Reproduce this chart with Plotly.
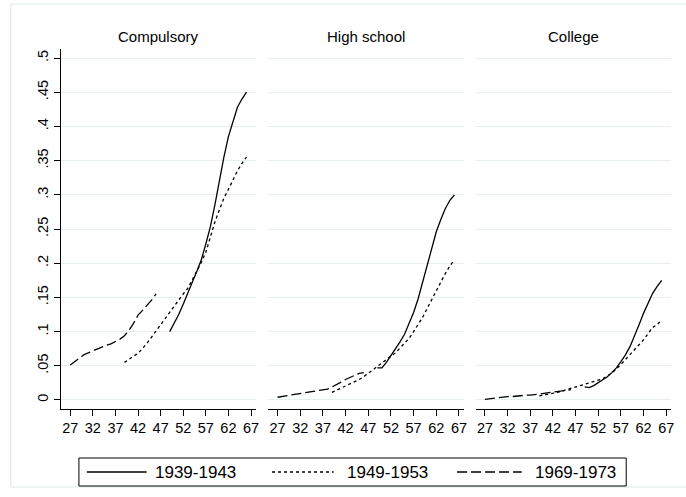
import plotly.graph_objects as go

# Share of people by age, three birth cohorts, split by education level
panels = ["Compulsory", "High school", "College"]
cohorts = ["1939-1943", "1949-1953", "1969-1973"]
dashes = ["solid", "3px,3px", "10px,4px"]

ages_1939 = list(range(49, 67))
ages_1949 = list(range(39, 67))
ages_1969 = list(range(27, 47))

compulsory_1939 = [0.100, 0.112, 0.125, 0.140, 0.155, 0.172, 0.188, 0.205, 0.228,
                   0.253, 0.285, 0.321, 0.355, 0.385, 0.408, 0.428, 0.440, 0.450]
compulsory_1949 = [0.055, 0.060, 0.064, 0.068, 0.075, 0.083, 0.092, 0.101, 0.110,
                   0.119, 0.129, 0.138, 0.146, 0.155, 0.163, 0.175, 0.188, 0.201,
                   0.216, 0.238, 0.260, 0.278, 0.295, 0.308, 0.322, 0.335, 0.346, 0.355]
compulsory_1969 = [0.051, 0.056, 0.061, 0.066, 0.069, 0.072, 0.075, 0.078, 0.080, 0.082,
                   0.085, 0.089, 0.094, 0.102, 0.112, 0.124, 0.131, 0.138, 0.146, 0.155]

highschool_1939 = [0.047, 0.047, 0.055, 0.065, 0.074, 0.085, 0.096, 0.112, 0.128,
                   0.148, 0.172, 0.198, 0.224, 0.246, 0.264, 0.280, 0.292, 0.300]
highschool_1949 = [0.011, 0.014, 0.017, 0.020, 0.023, 0.026, 0.030, 0.034, 0.039,
                   0.043, 0.048, 0.053, 0.058, 0.063, 0.069, 0.076, 0.083, 0.090,
                   0.100, 0.110, 0.121, 0.134, 0.147, 0.160, 0.172, 0.185, 0.196, 0.205]
highschool_1969 = [0.004, 0.005, 0.006, 0.007, 0.008, 0.009, 0.010, 0.011, 0.012, 0.013,
                   0.014, 0.016, 0.019, 0.022, 0.026, 0.030, 0.033, 0.036, 0.039, 0.040]

college_1939 = [0.019, 0.018, 0.021, 0.025, 0.029, 0.034, 0.040, 0.047, 0.056,
                0.066, 0.078, 0.093, 0.110, 0.127, 0.142, 0.156, 0.166, 0.175]
college_1949 = [0.006, 0.007, 0.008, 0.010, 0.011, 0.013, 0.015, 0.017, 0.018,
                0.020, 0.022, 0.024, 0.026, 0.028, 0.031, 0.035, 0.040, 0.045,
                0.052, 0.059, 0.066, 0.073, 0.080, 0.088, 0.097, 0.106, 0.110, 0.117]
college_1969 = [0.001, 0.002, 0.003, 0.003, 0.004, 0.005, 0.005, 0.006, 0.006, 0.007,
                0.007, 0.008, 0.009, 0.010, 0.011, 0.012, 0.013, 0.014, 0.015, 0.015]

x_ticks = [27, 32, 37, 42, 47, 52, 57, 62, 67]
y_ticks = [0, 0.05, 0.1, 0.15, 0.2, 0.25, 0.3, 0.35, 0.4, 0.45, 0.5]
y_tick_labels = ["0", ".05", ".1", ".15", ".2", ".25", ".3", ".35", ".4", ".45", ".5"]

series = [
    [(ages_1939, compulsory_1939), (ages_1949, compulsory_1949), (ages_1969, compulsory_1969)],
    [(ages_1939, highschool_1939), (ages_1949, highschool_1949), (ages_1969, highschool_1969)],
    [(ages_1939, college_1939), (ages_1949, college_1949), (ages_1969, college_1969)],
]

FONT = "Liberation Sans, Arial, sans-serif"
GRID = "#e6eef0"
TICK_SIZE = 14.5

W, H = 686, 497
ML, MR, MT, MB = 61, 12, 49, 88
PW, PH = W - ML - MR, H - MT - MB


def px(x):
    return (x - ML) / PW


def py(y):
    return (H - MB - y) / PH


domains = [[0.0, px(256.7)], [px(269.3), px(465.7)], [px(477.7), 1.0]]

fig = go.Figure()
for p, panel in enumerate(series):
    for c, (ages, vals) in enumerate(panel):
        fig.add_trace(go.Scatter(
            x=ages, y=vals, mode="lines", name=cohorts[c], showlegend=False,
            line=dict(color="black", width=1.3, dash=dashes[c]),
            xaxis="x" if p == 0 else f"x{p + 1}",
            yaxis="y" if p == 0 else f"y{p + 1}",
        ))

layout = dict(
    width=W, height=H,
    margin=dict(l=ML, r=MR, t=MT, b=MB),
    paper_bgcolor="white", plot_bgcolor="white",
    font=dict(family=FONT, color="black", size=13),
    showlegend=False,
)

for p in range(3):
    sx = "" if p == 0 else str(p + 1)
    layout[f"xaxis{sx}"] = dict(
        domain=domains[p], range=[24.95, 68.05], anchor=f"y{sx}",
        tickmode="array", tickvals=x_ticks, ticks="outside", ticklen=6,
        tickcolor="black", showline=True, linecolor="black", linewidth=1,
        showgrid=False, zeroline=False, tickfont=dict(size=TICK_SIZE, family=FONT),
    )
    layout[f"yaxis{sx}"] = dict(
        domain=[0, 1], range=[-0.0132, 0.5132], anchor=f"x{sx}",
        tickmode="array", tickvals=y_ticks, ticktext=y_tick_labels,
        showgrid=True, gridcolor=GRID, gridwidth=1, zeroline=False,
        showline=(p == 0), linecolor="black", linewidth=1,
        ticks="outside" if p == 0 else "", ticklen=6, tickcolor="black",
        showticklabels=(p == 0), tickangle=-90,
        tickfont=dict(size=TICK_SIZE, family=FONT),
    )

fig.update_layout(**layout)

# Panel headings
for p, name in enumerate(panels):
    fig.add_annotation(
        x=(domains[p][0] + domains[p][1]) / 2, y=py(37), xref="paper", yref="paper",
        text=name, showarrow=False, font=dict(size=15, family=FONT),
        xanchor="center", yanchor="middle",
    )

# Outer graph region outline
fig.add_shape(type="rect", xref="paper", yref="paper",
              x0=px(10.5), x1=px(700), y0=py(487), y1=py(4),
              line=dict(color="#dfe8ea", width=1), layer="below")

# Legend box with line samples
fig.add_shape(type="rect", xref="paper", yref="paper",
              x0=px(79), x1=px(629), y0=py(486), y1=py(458),
              line=dict(color="black", width=1), fillcolor="white")
legend_y = py(472)
samples = [(87, 147, 153), (273, 335, 346), (459, 524, 535)]
for c, (a, b, t) in enumerate(samples):
    fig.add_shape(type="line", xref="paper", yref="paper",
                  x0=px(a), x1=px(b), y0=legend_y, y1=legend_y,
                  line=dict(color="black", width=1.3, dash=dashes[c]))
    fig.add_annotation(x=px(t), y=legend_y, xref="paper", yref="paper",
                       text=cohorts[c], showarrow=False, xanchor="left",
                       yanchor="middle", font=dict(size=17, family=FONT))

fig.write_html("out.html")
